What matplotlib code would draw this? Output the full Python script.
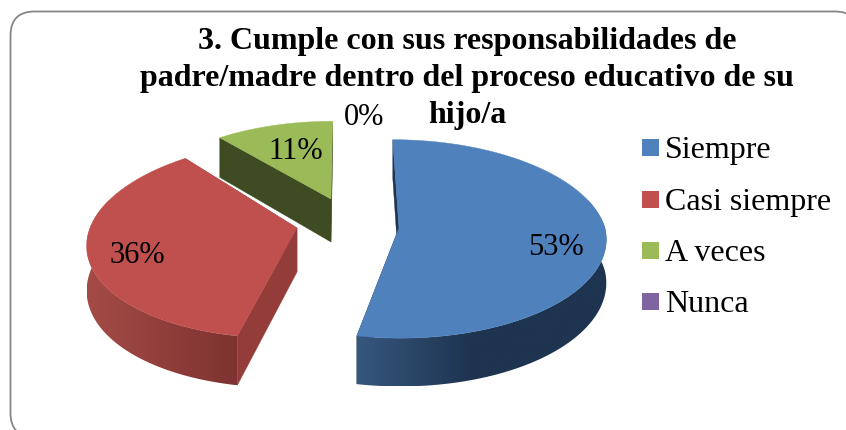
import numpy as np
import matplotlib
matplotlib.use("Agg")
import matplotlib.pyplot as plt
from matplotlib.patches import Polygon, Rectangle, FancyBboxPatch

title = "3. Cumple con sus responsabilidades de\npadre/madre dentro del proceso educativo de su\nhijo/a"
categories = ["Siempre", "Casi siempre", "A veces", "Nunca"]
values = [53, 36, 11, 0]
pct_labels = ["53%", "36%", "11%", "0%"]

colors = ["#4F81BD", "#C0504D", "#9BBB59", "#8064A2"]
wall_colors = ["#1E3450", "#943C39", "#3F4B22", "#403251"]
side_left = ["#36577E", "#A44B47", "#3F4B22", "#403251"]
side_right = ["#1E3450", "#7D3330", "#3F4B22", "#403251"]

# apex of each exploded slice in pixels, plus how the perspective bends it
apex = [(399, 228), (297, 228), (331, 199), (331, 199)]
xscale = [0.99, 0.995, 0.92, 0.92]
yscale = [1.0, 1.0, 0.88, 0.88]
shear_back = [0.07, -0.14, -0.02, -0.02]
shear_front = [0.01, -0.15, -0.02, -0.02]
depth = [43, 44, 43, 43]
label_pos = [(556, 255), (137, 263), (296, 159), (364, 125)]
legend_y = [139, 191, 242, 293]
RX, RY, K = 208, 98, 0.11

plt.rcParams['font.family'] = ['Liberation Serif', 'DejaVu Serif']


def project(i, theta):
    s = 1 / (1 + K * np.cos(theta))
    x = RX * xscale[i] * s * np.sin(theta)
    y = -RY * yscale[i] * s * np.cos(theta)
    sh = np.where(y < 0, shear_back[i], shear_front[i])
    return apex[i][0] + x + sh * y, apex[i][1] + y, depth[i] * s


def draw_slice(ax, i, start, end, z):
    theta = np.radians(np.linspace(start, end, 300))
    x, y, d = project(i, theta)
    ax0, ay0 = apex[i]
    ad = depth[i]

    # side walls first, the top face hides what should not show
    for k in [0, -1]:
        wall = [(ax0, ay0), (x[k], y[k]), (x[k], y[k] + d[k]), (ax0, ay0 + ad)]
        ax.add_patch(Polygon(wall, fc=wall_colors[i], ec=wall_colors[i], lw=0.3, zorder=z))

    # outer rim, gradient image clipped to the rim shape
    vis = np.where(np.cos(theta) < 0.3)[0]
    if i != 2 and len(vis) > 1:
        rim = np.column_stack([np.r_[x[vis], x[vis][::-1]],
                               np.r_[y[vis], (y[vis] + d[vis])[::-1]]])
        patch = Polygon(rim, fc="none", ec="none", transform=ax.transData)
        ax.add_patch(patch)
        xmin, xmax = x[vis].min(), x[vis].max()
        ymin, ymax = rim[:, 1].min(), rim[:, 1].max()
        t = np.linspace(0, 1, 256)
        if i == 0:
            t = np.clip(t * 2.2, 0, 1)
        c1 = np.array(matplotlib.colors.to_rgb(side_left[i]))
        c2 = np.array(matplotlib.colors.to_rgb(side_right[i]))
        img = (c1[None, :] + (c2 - c1)[None, :] * t[:, None])[None, :, :]
        im = ax.imshow(img, extent=(xmin, xmax, ymax, ymin), aspect="auto", zorder=z + 0.1,
                       interpolation="bilinear")
        im.set_clip_path(patch)

    top = np.column_stack([np.r_[ax0, x], np.r_[ay0, y]])
    ax.add_patch(Polygon(top, fc=colors[i], ec=colors[i], lw=0.3, zorder=z + 0.2))


def main():
    fig = plt.figure(figsize=(8.46, 4.30), dpi=100)
    ax = fig.add_axes([0, 0, 1, 1])

    ax.add_patch(FancyBboxPatch((10.5, 11.5), 848.5, 425.5, boxstyle="round,pad=0,rounding_size=24",
                                fc="white", ec="#868686", lw=1.3, zorder=0.5))

    total = sum(values)
    bounds = np.cumsum([0] + values) / total * 360
    for z, i in enumerate([2, 1, 0]):
        draw_slice(ax, i, bounds[i], bounds[i + 1], z + 1)

    for i, lab in enumerate(pct_labels):
        ax.text(label_pos[i][0], label_pos[i][1], lab, fontsize=22, ha="center", va="baseline",
                color="black", zorder=10)

    for i, cat in enumerate(categories):
        ax.add_patch(Rectangle((642, legend_y[i]), 17, 17, fc=colors[i], ec="none", zorder=10))
        ax.text(665, legend_y[i] + 19, cat, fontsize=23, ha="left", va="baseline", color="black", zorder=10)

    for line, yb in zip(title.split("\n"), [49, 86, 123]):
        ax.text(467, yb, line, fontsize=23, fontweight="bold", ha="center", va="baseline",
                color="black", zorder=10)

    ax.set_xlim(0, 846)
    ax.set_ylim(430, 0)
    ax.axis("off")
    fig.savefig("out.png", dpi=100)


if __name__ == "__main__":
    main()
